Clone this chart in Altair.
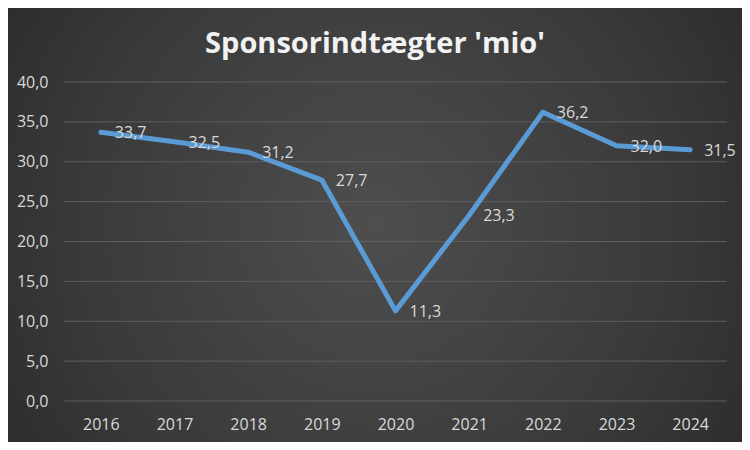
import altair as alt
import pandas as pd

years = ["2016", "2017", "2018", "2019", "2020", "2021", "2022", "2023", "2024"]
values = [33.7, 32.5, 31.2, 27.7, 11.3, 23.3, 36.2, 32.0, 31.5]
labels = ["33,7", "32,5", "31,2", "27,7", "11,3", "23,3", "36,2", "32,0", "31,5"]
title_text = "Sponsorindtægter 'mio'"
y_ticks = [0, 5, 10, 15, 20, 25, 30, 35, 40]

df = pd.DataFrame({"year": years, "value": values, "label": labels})
grid_df = pd.DataFrame({"value": y_ticks})

W, H = 663, 319
PAD = {"left": 56, "top": 74, "right": 15, "bottom": 41}

FONT = "Open Sans"
LABEL_COLOR = "#d9d9d9"

y_scale = alt.Scale(domain=[0, 40], nice=False, zero=True)
y_axis = alt.Axis(
    values=y_ticks,
    labelExpr="replace(format(datum.value, '.1f'), '.', ',')",
    labelColor=LABEL_COLOR,
    labelFont=FONT,
    labelFontSize=16,
    ticks=False,
    tickSize=0,
    domain=False,
    grid=False,
    labelPadding=16,
    zindex=1,
)

bg = alt.Chart(alt.Data(values=[{"a": 1}])).mark_rect(
    fill=alt.RadialGradient(
        gradient="radial",
        stops=[
            alt.GradientStop(color="#4e4e4e", offset=0),
            alt.GradientStop(color="#3a3a3a", offset=0.55),
            alt.GradientStop(color="#242424", offset=1),
        ],
        x1=0.5, y1=0.5, r1=0, x2=0.5, y2=0.5, r2=0.72,
    ),
    strokeWidth=0,
).encode(
    x=alt.value(-PAD["left"]),
    x2=alt.value(W + PAD["right"]),
    y=alt.value(-PAD["top"]),
    y2=alt.value(H + PAD["bottom"]),
)

grid = alt.Chart(grid_df).mark_rule(color="#5e5e5e", strokeWidth=1).encode(
    y=alt.Y("value:Q", scale=y_scale, axis=y_axis, title=None),
    x=alt.value(0),
    x2=alt.value(W),
)

base = alt.Chart(df).encode(
    x=alt.X(
        "year:O",
        sort=years,
        title=None,
        axis=alt.Axis(
            labelAngle=0,
            labelColor=LABEL_COLOR,
            labelFont=FONT,
            labelFontSize=16,
            ticks=False,
            tickSize=0,
            domain=False,
            grid=False,
            labelPadding=15,
            zindex=1,
        ),
    ),
    y=alt.Y("value:Q", title=None, scale=y_scale, axis=y_axis),
)

line = base.mark_line(
    color="#5b9bd5", strokeWidth=5, strokeCap="round", strokeJoin="round"
)

text = base.mark_text(
    align="left", baseline="middle", dx=14, dy=1,
    font=FONT, fontSize=16, color=LABEL_COLOR,
).encode(text="label:N")

title = alt.Chart(alt.Data(values=[{"t": title_text}])).mark_text(
    font=FONT, fontSize=29, fontWeight="bold", color="#f2f2f2",
    align="center", baseline="middle",
).encode(
    x=alt.value(375 - 8 - PAD["left"]),
    y=alt.value(44 - 8 - PAD["top"]),
    text="t:N",
)

chart = alt.layer(bg, grid, line, text, title).properties(
    width=W,
    height=H,
    autosize=alt.AutoSizeParams(type="none"),
    padding=PAD,
    background="#262626",
).configure_view(strokeWidth=0)

chart.save("out.html", embed_options={"renderer": "svg", "actions": False})
